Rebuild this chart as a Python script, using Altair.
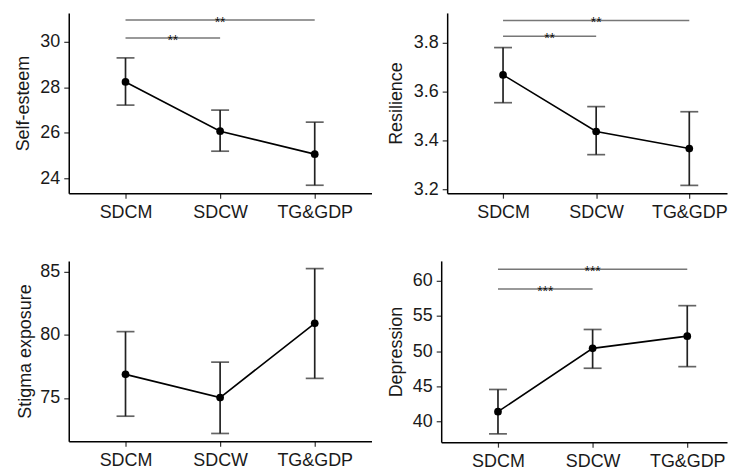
import altair as alt
import pandas as pd

groups = ["SDCM", "SDCW", "TG&GDP"]
group_idx = [1, 2, 3]

se_mean = [28.24, 26.07, 25.06]
se_low = [27.22, 25.19, 23.69]
se_high = [29.30, 27.00, 26.47]

res_mean = [3.669, 3.437, 3.367]
res_low = [3.555, 3.342, 3.216]
res_high = [3.781, 3.539, 3.518]

stig_mean = [76.87, 75.03, 80.92]
stig_low = [73.55, 72.18, 76.55]
stig_high = [80.26, 77.84, 85.26]

dep_mean = [41.37, 50.38, 52.12]
dep_low = [38.21, 47.55, 47.78]
dep_high = [44.53, 53.07, 56.46]

# significance brackets: from group, to group, y level, label
se_sig = [(1, 2, 30.18, "**"), (1, 3, 30.97, "**")]
res_sig = [(1, 2, 3.827, "**"), (1, 3, 3.892, "**")]
stig_sig = []
dep_sig = [(1, 2, 58.82, "***"), (1, 3, 61.65, "***")]

FONT = "Liberation Sans"
TXT = "#1a1a1a"
label_expr = "datum.value == 1 ? 'SDCM' : datum.value == 2 ? 'SDCW' : datum.value == 3 ? 'TG&GDP' : ''"


def panel(title, mean, low, high, sig, ydom, yticks, xdom, width, height, title_x, fmt):
    df = pd.DataFrame({"x": group_idx, "g": groups, "m": mean, "lo": low, "hi": high})
    xs = alt.Scale(domain=xdom, nice=False, zero=False)
    ys = alt.Scale(domain=ydom, nice=False, zero=False)
    xax = alt.Axis(values=group_idx, labelExpr=label_expr, title=None, grid=False,
                   tickSize=5, labelPadding=5, labelFontSize=18, labelFont=FONT,
                   labelColor=TXT, domainColor="#000", tickColor="#333", domainWidth=1.5,
                   tickWidth=1.2, labelFlush=False)
    yax = alt.Axis(values=yticks, title=title, grid=False, format=fmt, tickSize=5,
                   labelPadding=4, labelFontSize=18, labelFont=FONT, labelColor=TXT,
                   titleFontSize=18, titleFont=FONT, titleFontWeight="normal",
                   titleColor=TXT, titleX=title_x, titleBaseline="middle",
                   domainColor="#000", tickColor="#333", domainWidth=1.5, tickWidth=1.2)
    base = alt.Chart(df)
    line = base.mark_line(color="#000", strokeWidth=1.6).encode(
        x=alt.X("x:Q", scale=xs, axis=xax), y=alt.Y("m:Q", scale=ys, axis=yax))
    err = base.mark_rule(color="#222", strokeWidth=1.7).encode(
        x="x:Q", y="lo:Q", y2="hi:Q")
    caps_hi = base.mark_tick(color="#222", thickness=1.7, size=18, orient="horizontal").encode(
        x="x:Q", y="hi:Q")
    caps_lo = base.mark_tick(color="#222", thickness=1.7, size=18, orient="horizontal").encode(
        x="x:Q", y="lo:Q")
    pts = base.mark_circle(color="#000", size=60, opacity=1).encode(x="x:Q", y="m:Q")
    layers = [err, caps_hi, caps_lo, line, pts]
    if sig:
        sdf = pd.DataFrame({"a": [s[0] for s in sig], "b": [s[1] for s in sig],
                            "y": [s[2] for s in sig], "lab": [s[3] for s in sig]})
        sdf["mid"] = (sdf["a"] + sdf["b"]) / 2
        sb = alt.Chart(sdf)
        layers.append(sb.mark_rule(color="#777", strokeWidth=1.5).encode(
            x="a:Q", x2="b:Q", y="y:Q"))
        layers.append(sb.mark_text(fontSize=14, font=FONT, color="#111", baseline="alphabetic",
                                   dy=7).encode(x="mid:Q", y="y:Q", text="lab:N"))
    return alt.layer(*layers).properties(width=width, height=height)


p1 = panel("Self-esteem", se_mean, se_low, se_high, se_sig, [23.34, 31.28],
           [24, 26, 28, 30], [0.4, 3.6], 304, 181, -45, "d")
p2 = panel("Resilience", res_mean, res_low, res_high, res_sig, [3.184, 3.923],
           [3.2, 3.4, 3.6, 3.8], [0.4, 3.405], 281, 181, -51, ".1f")
p3 = panel("Stigma exposure", stig_mean, stig_low, stig_high, stig_sig, [71.57, 85.87],
           [75, 80, 85], [0.4, 3.6], 304, 181, -43, "d")
p4 = panel("Depression", dep_mean, dep_low, dep_high, dep_sig, [37.03, 62.83],
           [40, 45, 50, 55, 60], [0.4, 3.42], 287, 182, -45, "d")

row1 = alt.hconcat(p1, p2, spacing=16)
row2 = alt.hconcat(p3, p4, spacing=16)
chart = alt.vconcat(row1, row2, spacing=40).properties(
    padding={"left": 7, "top": 4, "right": 0, "bottom": 0},
    background="white"
).configure_view(stroke=None, strokeWidth=0)

chart.save("out.html", embed_options={"renderer": "svg", "actions": False})
